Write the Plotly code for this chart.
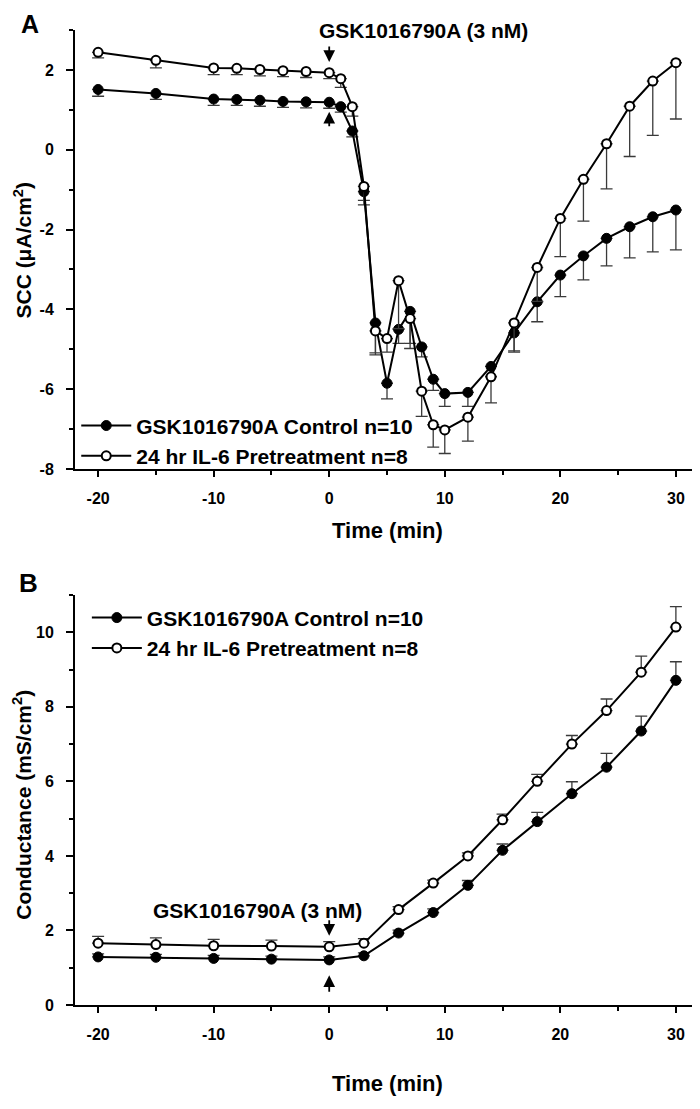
import plotly.graph_objects as go

# Panel A: short-circuit current (SCC)
time_a = [-20, -15, -10, -8, -6, -4, -2, 0, 1, 2, 3, 4, 5, 6, 7, 8, 9, 10,
          12, 14, 16, 18, 20, 22, 24, 26, 28, 30]
scc_control = [1.51, 1.41, 1.27, 1.26, 1.24, 1.21, 1.20, 1.19, 1.08, 0.47, -1.05, -4.34,
               -5.85, -4.50, -4.05, -4.94, -5.75, -6.11, -6.08, -5.43, -4.59, -3.81,
               -3.14, -2.66, -2.22, -1.93, -1.68, -1.51]
scc_control_err = [0.17, 0.15, 0.16, 0.15, 0.15, 0.15, 0.15, 0.15, 0.14, 0.15, 0.33, 0.80,
                   0.39, 0.35, 0.80, 0.25, 0.28, 0.32, 0.35, 0.25, 0.48, 0.50, 0.54,
                   0.60, 0.69, 0.78, 0.88, 1.00]
scc_il6 = [2.44, 2.24, 2.05, 2.04, 2.01, 1.98, 1.96, 1.93, 1.78, 1.08, -0.92, -4.54,
           -4.73, -3.28, -4.23, -6.05, -6.89, -7.02, -6.70, -5.69, -4.34, -2.95,
           -1.72, -0.74, 0.15, 1.09, 1.72, 2.18]
scc_il6_err = [0.14, 0.19, 0.17, 0.16, 0.16, 0.15, 0.15, 0.15, 0.22, 0.24, 0.35, 0.55,
               0.34, 1.20, 0.75, 0.63, 0.56, 0.59, 0.60, 0.65, 0.70, 0.85, 0.96,
               1.05, 1.13, 1.26, 1.36, 1.41]

# Panel B: conductance
time_b = [-20, -15, -10, -5, 0, 3, 6, 9, 12, 15, 18, 21, 24, 27, 30]
g_control = [1.29, 1.28, 1.25, 1.23, 1.21, 1.32, 1.93, 2.48, 3.21, 4.15, 4.92, 5.67,
             6.38, 7.35, 8.71]
g_control_err = [0.08, 0.08, 0.08, 0.08, 0.08, 0.08, 0.08, 0.10, 0.13, 0.17, 0.25,
                 0.32, 0.37, 0.40, 0.50]
g_il6 = [1.66, 1.62, 1.59, 1.58, 1.56, 1.66, 2.56, 3.27, 4.00, 4.97, 6.00, 7.00,
         7.90, 8.93, 10.14]
g_il6_err = [0.18, 0.18, 0.17, 0.16, 0.14, 0.12, 0.08, 0.08, 0.08, 0.15, 0.19, 0.23,
             0.31, 0.43, 0.55]

names = ["GSK1016790A Control n=10", "24 hr IL-6 Pretreatment n=8"]

# tick labels (plain hyphen as in the original figure)
x_ticks = [-20, -10, 0, 10, 20, 30]
x_tick_labels = ["-20", "-10", "0", "10", "20", "30"]
scc_ticks = [-8, -6, -4, -2, 0, 2]
scc_tick_labels = ["-8", "-6", "-4", "-2", "0", "2"]
g_ticks = [0, 2, 4, 6, 8, 10]
g_tick_labels = ["0", "2", "4", "6", "8", "10"]

FONT = "Liberation Sans, Arial, sans-serif"
ERR_COLOR = "#3a3a3a"

filled = dict(symbol="circle", size=10, color="black", line=dict(color="black", width=1))
hollow = dict(symbol="circle", size=9, color="white", line=dict(color="black", width=2))


def err(vals, down):
    zeros = [0] * len(vals)
    return dict(type="data", symmetric=False,
                array=zeros if down else vals,
                arrayminus=vals if down else zeros,
                color=ERR_COLOR, thickness=1.3, width=6)


fig = go.Figure()

fig.add_trace(go.Scatter(x=time_a, y=scc_control, name=names[0], mode="lines+markers",
                         line=dict(color="black", width=2), marker=filled,
                         error_y=err(scc_control_err, True),
                         xaxis="x", yaxis="y", legend="legend"))
fig.add_trace(go.Scatter(x=time_a, y=scc_il6, name=names[1], mode="lines+markers",
                         line=dict(color="black", width=2), marker=hollow,
                         error_y=err(scc_il6_err, True),
                         xaxis="x", yaxis="y", legend="legend"))
fig.add_trace(go.Scatter(x=time_b, y=g_control, name=names[0], mode="lines+markers",
                         line=dict(color="black", width=2), marker=filled,
                         error_y=err(g_control_err, False),
                         xaxis="x2", yaxis="y2", legend="legend2"))
fig.add_trace(go.Scatter(x=time_b, y=g_il6, name=names[1], mode="lines+markers",
                         line=dict(color="black", width=2), marker=hollow,
                         error_y=err(g_il6_err, False),
                         xaxis="x2", yaxis="y2", legend="legend2"))

axis_common = dict(showline=True, linecolor="black", linewidth=2, ticks="outside",
                   ticklen=7, tickwidth=2, tickcolor="black", showgrid=False,
                   zeroline=False, mirror=False, automargin=False,
                   tickfont=dict(size=16, family=FONT, color="black", weight="bold"))
xaxis_common = dict(axis_common, range=[-22, 32], tickvals=x_ticks, ticktext=x_tick_labels,
                    ticklen=6, ticklabelstandoff=8,
                    minor=dict(tick0=0, dtick=5, ticks="outside", ticklen=4, tickwidth=1.5,
                               tickcolor="black"))
yaxis_common = dict(axis_common, ticklabelstandoff=9,
                    minor=dict(tick0=0, dtick=1, ticks="outside", ticklen=4, tickwidth=1.5,
                               tickcolor="black"))
legend_font = dict(size=21, family=FONT, color="black", weight="bold")

# the page body adds an 8px margin, so the figure is 8px smaller than the window
fig.update_layout(
    width=692, height=1101,
    margin=dict(l=67, r=1, t=22, b=104),
    plot_bgcolor="white", paper_bgcolor="white",
    font=dict(family=FONT, color="black", weight="bold"),
    xaxis=dict(xaxis_common, anchor="y", domain=[0, 1]),
    yaxis=dict(yaxis_common, anchor="x", domain=[0.5497, 1], range=[-8, 3],
               tickvals=scc_ticks, ticktext=scc_tick_labels),
    xaxis2=dict(xaxis_common, anchor="y2", domain=[0, 1]),
    yaxis2=dict(yaxis_common, anchor="x2", domain=[0, 0.4205], range=[0, 11],
                tickvals=g_ticks, ticktext=g_tick_labels),
    legend=dict(x=0.002, y=0.615, xanchor="left", yanchor="top", itemwidth=50,
                bgcolor="rgba(0,0,0,0)", font=legend_font),
    legend2=dict(x=0.019, y=0.418, xanchor="left", yanchor="top", itemwidth=50,
                 bgcolor="rgba(0,0,0,0)", font=legend_font),
    showlegend=True,
)

title_font = dict(size=21, family=FONT, color="black", weight="bold")
ann_font = dict(size=21, family=FONT, color="black", weight="bold")

# axis titles
fig.add_annotation(x=0.5, y=0.487, xref="paper", yref="paper", text="Time (min)",
                   showarrow=False, font=dict(title_font, size=22), yanchor="middle")
fig.add_annotation(x=0.5, y=-0.080, xref="paper", yref="paper", text="Time (min)",
                   showarrow=False, font=dict(title_font, size=22), yanchor="middle")
fig.add_annotation(x=-0.084, y=0.7744, xref="paper", yref="paper",
                   text="SCC (\u03bcA/cm<sup>2</sup>)", textangle=-90,
                   showarrow=False, font=title_font, xanchor="center", yanchor="middle")
fig.add_annotation(x=-0.084, y=0.205, xref="paper", yref="paper",
                   text="Conductance (mS/cm<sup>2</sup>)", textangle=-90,
                   showarrow=False, font=title_font, xanchor="center", yanchor="middle")

# drug addition markers
arrow = dict(showarrow=True, arrowhead=2, arrowsize=1.3, arrowwidth=1.8,
             arrowcolor="black", text="", ax=0)
fig.add_annotation(x=0, y=3.0, xref="x", yref="y", text="GSK1016790A (3 nM)",
                   showarrow=False, xanchor="left", xshift=-12, font=ann_font)
fig.add_annotation(arrow, x=0, y=2.2, xref="x", yref="y", ay=-17)
fig.add_annotation(arrow, x=0, y=0.95, xref="x", yref="y", ay=16)
fig.add_annotation(x=0, y=2.53, xref="x2", yref="y2", text="GSK1016790A (3 nM)",
                   showarrow=False, xanchor="right", xshift=35, font=ann_font)
fig.add_annotation(arrow, x=0, y=1.86, xref="x2", yref="y2", ay=-17)
fig.add_annotation(arrow, x=0, y=0.8, xref="x2", yref="y2", ay=18)

# panel letters
fig.add_annotation(x=-0.0905, y=1.0225, xref="paper", yref="paper", yanchor="top",
                   text="A", showarrow=False,
                   font=dict(size=25, family=FONT, color="black", weight="bold"))
fig.add_annotation(x=-0.093, y=0.4328, xref="paper", yref="paper", yanchor="middle",
                   text="B", showarrow=False,
                   font=dict(size=26, family=FONT, color="black", weight="bold"))

fig.write_html("out.html")
